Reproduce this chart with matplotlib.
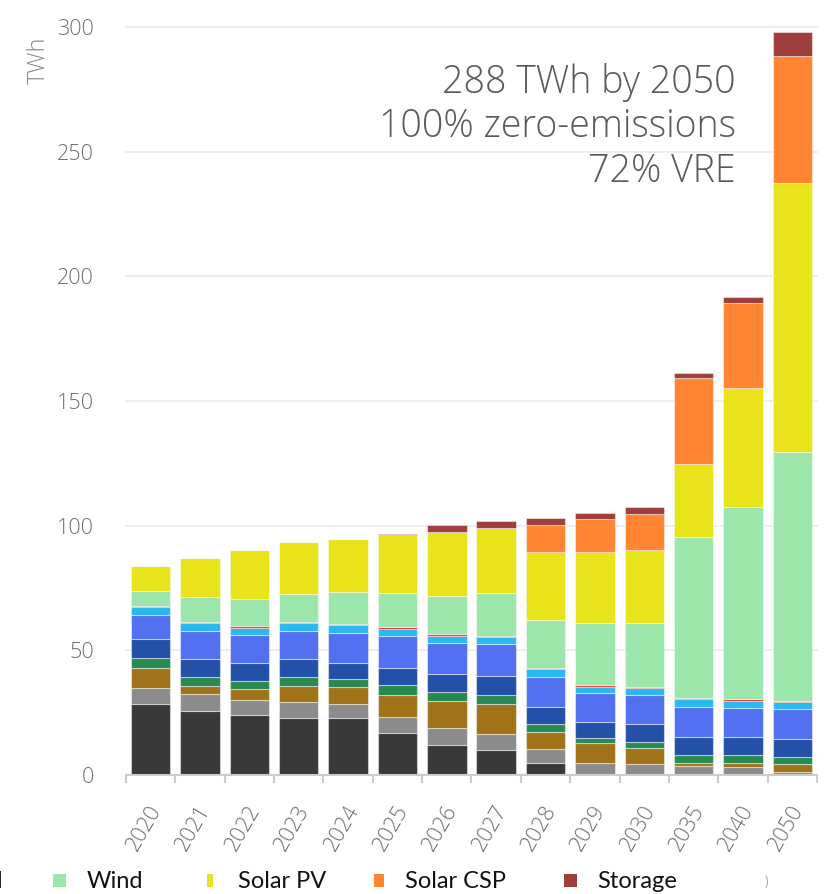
import numpy as np
import matplotlib
matplotlib.use("Agg")
import matplotlib.pyplot as plt
import matplotlib.transforms as mtransforms
from matplotlib import font_manager as fm
from matplotlib.patches import Rectangle

# ============================================================
# DATA (TWh per source)
# ============================================================

years = ["2020", "2021", "2022", "2023", "2024", "2025", "2026",
         "2027", "2028", "2029", "2030", "2035", "2040", "2050"]

coal = [28.5, 25.8, 24.2, 23.0, 22.7, 17.0, 12.2, 9.9, 4.8, 0, 0, 0, 0, 0]
gas = [6.3, 6.6, 5.8, 6.2, 5.8, 6.1, 6.5, 6.4, 5.6, 4.9, 4.3, 3.5, 3.2, 1.4]
oil = [8.3, 3.2, 4.4, 6.5, 6.7, 9.1, 11.1, 12.1, 6.7, 7.8, 6.7, 1.5, 1.8, 3.0]
biomass = [4.0, 3.7, 3.4, 3.6, 3.3, 3.8, 3.6, 3.6, 3.4, 2.0, 2.2, 3.2, 2.9, 2.9]
geothermal = [7.6, 7.1, 7.0, 7.1, 6.4, 7.0, 7.0, 7.6, 6.9, 6.6, 7.1, 7.2, 7.2, 7.1]
hydro = [9.6, 11.5, 11.2, 11.5, 12.2, 12.9, 12.7, 12.8, 12.0, 11.5, 11.7, 11.9, 11.9, 11.9]
small_hydro = [3.0, 2.9, 3.1, 2.9, 2.9, 2.7, 2.8, 3.0, 3.1, 2.6, 2.8, 3.0, 2.8, 2.8]
other = [0.5, 0.6, 0.5, 0.6, 0.6, 0.8, 0.7, 0.5, 0.5, 0.7, 0.5, 0.6, 0.6, 0.6]
wind = [5.8, 10.0, 11.0, 11.3, 12.7, 13.6, 15.2, 17.2, 19.0, 24.7, 25.8, 64.4, 76.9, 99.8]
solar_pv = [10.1, 15.8, 19.8, 20.6, 21.4, 23.1, 25.8, 26.1, 27.6, 28.8, 29.2, 29.3, 48.0, 107.9]
solar_csp = [0, 0, 0, 0, 0, 0, 0, 0, 10.7, 13.1, 14.5, 34.5, 34.1, 51.1]
storage = [0, 0, 0, 0, 0, 0.4, 2.7, 2.6, 2.7, 2.4, 2.6, 2.3, 2.2, 9.5]

series = [coal, gas, oil, biomass, geothermal, hydro, small_hydro, other,
          wind, solar_pv, solar_csp, storage]
colors = ["#393939", "#8c8c8c", "#a0731a", "#288a50", "#2451a8", "#5270ef",
          "#29b8f0", "#ff2e2e", "#9de6ab", "#e8e31a", "#ff8533", "#9e3f3b"]

legend_names = ["Wind", "Solar PV", "Solar CSP", "Storage"]
legend_colors = ["#9de6ab", "#e8e31a", "#ff8533", "#9e3f3b"]

note_lines = ["288 TWh by 2050", "100% zero-emissions", "72% VRE"]


# ============================================================
# FONT: look for an upright light face, else plain Lato
# ============================================================

def find_light_font():
    files = fm.findSystemFonts()
    for fam in ["opensans", "roboto", "lato"]:
        for f in sorted(files):
            base = f.lower().replace("-", "").replace("_", "").replace(" ", "")
            base = base.split("/")[-1]
            if base.startswith(fam) and "light" in base \
                    and "italic" not in base and "extralight" not in base \
                    and "cond" not in base and "semi" not in base \
                    and "narrow" not in base:
                return fm.FontProperties(fname=f)
    return fm.FontProperties(family="Lato")


light = find_light_font()

# ============================================================
# FIGURE
# ============================================================

W, H = 828, 894
fig = plt.figure(figsize=(W / 100, H / 100), dpi=100)
ax = fig.add_axes([126 / W, 1 - 775 / H, 691 / W, 748 / H])

x = np.arange(len(years))
bottom = np.zeros(len(years))
for vals, c in zip(series, colors):
    vals = np.array(vals, dtype=float)
    ax.bar(x, vals, width=0.8, bottom=bottom, color=c,
           edgecolor=(1, 1, 1, 0.45), linewidth=0.8, zorder=3)
    bottom += vals

ax.set_xlim(-0.5, len(years) - 0.5)
ax.set_ylim(0, 300)
ax.set_yticks([0, 50, 100, 150, 200, 250, 300])
for yv in [50, 100, 150, 200, 250, 300]:
    ax.axhline(yv, color="#eeeeee", linewidth=1.5, zorder=1, clip_on=False)

for s in ["top", "right", "left"]:
    ax.spines[s].set_visible(False)
ax.spines["bottom"].set_color("#cccccc")
ax.spines["bottom"].set_linewidth(1.5)
ax.spines["bottom"].set_zorder(4)

ax.tick_params(axis="y", length=0, pad=23)
ax.set_xticks(x)
ax.set_xticklabels(years)
ax.set_xticks(np.arange(-0.5, len(years), 1.0), minor=True)
ax.tick_params(axis="x", which="major", length=0, pad=19)
ax.tick_params(axis="x", which="minor", length=6, width=1.5, color="#cccccc")

shift = mtransforms.ScaledTranslation(-3 / 100, 0, fig.dpi_scale_trans)
for lab in ax.get_xticklabels():
    lab.set_fontproperties(light)
    lab.set_fontsize(15.5)
    lab.set_color("#6f6f6f")
    lab.set_rotation(60)
    lab.set_ha("right")
    lab.set_va("top")
    lab.set_rotation_mode("anchor")
    lab.set_transform(lab.get_transform() + shift)
for lab in ax.get_yticklabels():
    lab.set_fontproperties(light)
    lab.set_fontsize(15.5)
    lab.set_color("#6f6f6f")

fig.text(39 / W, 1 - 60 / H, "TWh", rotation=90, ha="center", va="center",
         fontproperties=light, fontsize=17, color="#8a8a8a")

# annotation
for line, yb in zip(note_lines, [92.7, 136.7, 181.7]):
    fig.text(736 / W, 1 - yb / H, line, ha="right", va="baseline",
             fontproperties=light, fontsize=27, color="#5a5a5a")

# title fragment cut at the top edge
fig.text(737 / W, 1 + 14 / H, "y", ha="center", va="baseline",
         fontsize=40, fontweight="bold", color="#333333")

# legend (cropped, drawn by hand)
marker_x = [(53, 66), (207, 213), (374, 384), (564, 577)]
text_x = [87, 238, 405, 597]
for name, c, (x0, x1), tx in zip(legend_names, legend_colors, marker_x, text_x):
    fig.patches.append(Rectangle((x0 / W, 1 - 887 / H), (x1 - x0) / W, 13 / H,
                                 transform=fig.transFigure, facecolor=c,
                                 edgecolor="none"))
    fig.text(tx / W, 1 - 888 / H, name, ha="left", va="baseline",
             fontsize=17, color="#111111", family="Lato")

fig.text(3.5 / W, 1 - 888 / H, "Geothermal", ha="right", va="baseline",
         fontsize=17, color="#111111", family="Lato")
fig.text(766 / W, 1 - 882 / H, ")", ha="center", va="center",
         fontsize=10, color="#aaaaaa", family="Lato")

fig.savefig("out.png", dpi=100)
